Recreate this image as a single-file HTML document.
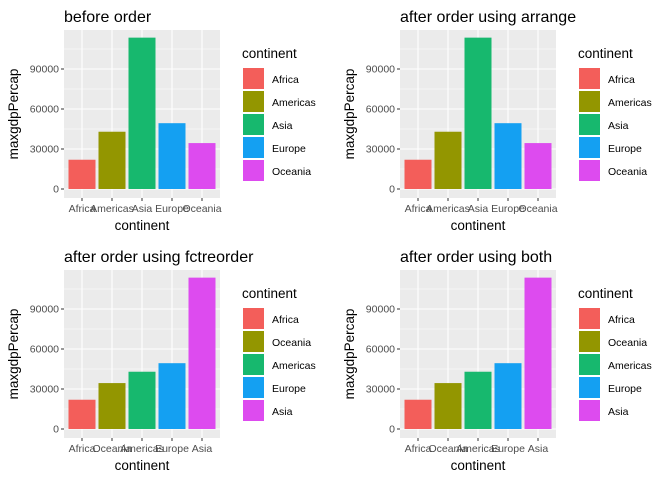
<!DOCTYPE html>
<html><head><meta charset="utf-8"><style>
body{margin:0;background:#fff;font-family:"Liberation Sans",sans-serif}
svg text{font-family:"Liberation Sans",sans-serif}
</style></head><body>
<svg id="c" width="672" height="480" xmlns="http://www.w3.org/2000/svg"></svg>
<script>
const titles = ["before order","after order using arrange","after order using fctreorder","after order using both"];
const catsA = ["Africa","Americas","Asia","Europe","Oceania"];
const valsA = [21951, 42952, 113523, 49357, 34435];
const catsB = ["Africa","Oceania","Americas","Europe","Asia"];
const valsB = [21951, 34435, 42952, 49357, 113523];
const colors = ["#F35E5A","#939600","#17B86E","#14A0F2","#DD4BEF"];
const yTicks = [0,30000,60000,90000];
const panelCats = [catsA,catsA,catsB,catsB];
const panelVals = [valsA,valsA,valsB,valsB];
const NS="http://www.w3.org/2000/svg";
const svg=document.getElementById('c');
function mk(tag,attrs,parent,text){const e=document.createElementNS(NS,tag);for(const k in attrs)e.setAttribute(k,attrs[k]);if(text!==undefined)e.textContent=text;parent.appendChild(e);return e;}
for(let p=0;p<4;p++){
  const ox=(p%2)*336, oy=Math.floor(p/2)*240;
  const g=mk('g',{transform:`translate(${ox},${oy})`},svg);
  
  
  const L=64,R=220,T=30,B=198;
  const y=v=>189-v/750;
  const x=i=>L+ (0.6+i)*30;
  const bg=mk('rect',{x:L,y:T,width:R-L,height:B-T,fill:'#EBEBEB'},g);
  
  
  for(let i=0;i<yTicks.length;i++){
    const v=yTicks[i]+15000;
    if(y(v)>T) mk('line',{x1:L,x2:R,y1:y(v),y2:y(v),stroke:'#fff','stroke-width':0.5},g);
  }
  for(let i=0;i<yTicks.length;i++){
    mk('line',{x1:L,x2:R,y1:y(yTicks[i]),y2:y(yTicks[i]),stroke:'#fff','stroke-width':1.1},g);
    mk('line',{x1:L-3,x2:L,y1:y(yTicks[i]),y2:y(yTicks[i]),stroke:'#333','stroke-width':1},g);
    const t=mk('text',{x:L-5,y:y(yTicks[i])+3.5,'text-anchor':'end','font-size':10.5,fill:'#4D4D4D'},g,String(yTicks[i]));
    
    
  }
  const cats=panelCats[p], vals=panelVals[p];
  for(let i=0;i<cats.length;i++){
    mk('line',{x1:x(i),x2:x(i),y1:T,y2:B,stroke:'#fff','stroke-width':1.1},g);
  }
  for(let i=0;i<cats.length;i++){
    const b=mk('rect',{x:x(i)-13.5,y:y(vals[i]),width:27,height:189-y(vals[i]),fill:colors[i]},g);
    
    
    mk('line',{x1:x(i),x2:x(i),y1:B,y2:B+3,stroke:'#333','stroke-width':1},g);
    const t=mk('text',{x:x(i),y:B+14,'text-anchor':'middle','font-size':10.5,fill:'#4D4D4D'},g,cats[i]);
    
    
  }
  const tt=mk('text',{x:L,y:22,'font-size':16,fill:'#000'},g,titles[p]);
  
  
  const xt=mk('text',{x:(L+R)/2,y:230,'text-anchor':'middle','font-size':13.5,fill:'#000'},g,'continent');
  
  
  const yt=mk('text',{x:0,y:0,'text-anchor':'middle','font-size':13.5,fill:'#000',transform:`translate(18,${(T+B)/2}) rotate(-90)`},g,'maxgdpPercap');
  
  
  const lt=mk('text',{x:242,y:58,'font-size':13.5,fill:'#000'},g,'continent');
  
  
  for(let i=0;i<cats.length;i++){
    const k=mk('rect',{x:243,y:68+i*23,width:21,height:21,fill:colors[i]},g);
    
    
    const l=mk('text',{x:272,y:83+i*23,'font-size':10.5,fill:'#000'},g,cats[i]);
    
    
  }
}
</script>
</body></html>
